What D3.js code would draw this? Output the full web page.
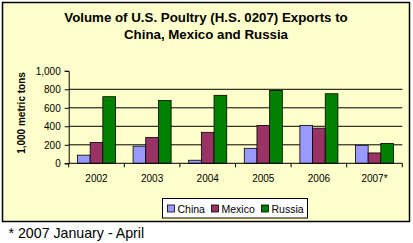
<!DOCTYPE html>
<html>
<head>
<meta charset="utf-8">
<script src="https://cdn.jsdelivr.net/npm/d3@7"></script>
<style>
  body { margin: 0; background: #fff; }
  text { font-family: "Liberation Sans", Arial, sans-serif; }
</style>
</head>
<body>
<svg id="chart"></svg>
<script>
var years = ["2002", "2003", "2004", "2005", "2006", "2007*"];
var seriesNames = ["China", "Mexico", "Russia"];
var china = [88, 185, 33, 162, 410, 195];
var mexico = [225, 280, 335, 410, 380, 112];
var russia = [720, 680, 735, 788, 752, 215];
var yTicks = [0, 200, 400, 600, 800, 1000];
var colors = ["#9999FF", "#993366", "#008000"];

var W = 413, H = 243;
var margin = { top: 70.8, right: 10.7, bottom: 79.7, left: 68.7 },
    width = W - margin.left - margin.right,
    height = H - margin.top - margin.bottom;

const svg = d3.select("#chart").attr("width", W).attr("height", H);

// chart frame
svg.append("rect")
    .attr("x", 2.5).attr("y", 2.5)
    .attr("width", 407).attr("height", 219)
    .attr("fill", "#FFFFCC")
    .attr("stroke", "#000").attr("stroke-width", 1.5);

svg.append("text")
    .attr("x", 206).attr("y", 21.7)
    .attr("text-anchor", "middle")
    .attr("font-size", 13.3).attr("font-weight", "bold")
    .text("Volume of U.S. Poultry (H.S. 0207) Exports to");
svg.append("text")
    .attr("x", 206).attr("y", 38.5)
    .attr("text-anchor", "middle")
    .attr("font-size", 13.3).attr("font-weight", "bold")
    .text("China, Mexico and Russia");

const g = svg.append("g").attr("transform", "translate(" + margin.left + "," + margin.top + ")");

const x0 = d3.scaleBand().domain(years).range([0, width]).paddingInner(0.316).paddingOuter(0.158);
const step = width / years.length;
const x1 = d3.scaleBand().domain(seriesNames).range([0, x0.bandwidth()]);
const y = d3.scaleLinear().domain([0, 1000]).range([height, 0]);

// gridlines
g.selectAll(".grid")
    .data(yTicks.filter(d => d > 0 && d < 1000))
    .enter().append("line")
    .attr("x1", 0).attr("x2", width)
    .attr("y1", d => y(d)).attr("y2", d => y(d))
    .attr("stroke", "#000").attr("stroke-width", 1);

const rows = years.map((yr, i) => ({ year: yr, vals: [china[i], mexico[i], russia[i]] }));

const grp = g.selectAll(".grp")
    .data(rows)
    .enter().append("g")
    .attr("transform", d => "translate(" + x0(d.year) + ",0)");

grp.selectAll("rect")
    .data(d => d.vals.map((v, j) => ({ name: seriesNames[j], v: v, c: colors[j] })))
    .enter().append("rect")
    .attr("x", d => x1(d.name))
    .attr("y", d => y(d.v))
    .attr("width", x1.bandwidth())
    .attr("height", d => height - y(d.v))
    .attr("fill", d => d.c)
    .attr("stroke", "#000").attr("stroke-width", 0.8);

// y axis
const yAxis = g.append("g")
    .call(d3.axisLeft(y).tickValues(yTicks).tickSize(4).tickPadding(4).tickFormat(d3.format(",")));
yAxis.select(".domain").attr("stroke", "#000");
yAxis.selectAll("text").attr("font-size", 10).attr("font-family", "Liberation Sans, Arial, sans-serif").attr("fill", "#000");

// x axis with ticks between categories
const xa = g.append("g").attr("transform", "translate(0," + height + ")");
xa.append("line").attr("x1", 0).attr("x2", width).attr("stroke", "#000");
xa.selectAll(".tk")
    .data(d3.range(years.length + 1))
    .enter().append("line")
    .attr("x1", i => i * step).attr("x2", i => i * step)
    .attr("y1", 0).attr("y2", 4)
    .attr("stroke", "#000");
xa.selectAll(".lbl")
    .data(years)
    .enter().append("text")
    .attr("x", d => x0(d) + x0.bandwidth() / 2)
    .attr("y", 19)
    .attr("text-anchor", "middle")
    .attr("font-size", 10)
    .text(d => d);

// y axis title
svg.append("text")
    .attr("transform", "translate(24.5,113) rotate(-90)")
    .attr("text-anchor", "middle")
    .attr("font-size", 10).attr("font-weight", "bold")
    .text("1,000 metric tons");

// legend
const lg = svg.append("g").attr("transform", "translate(162.5,198.5)");
lg.append("rect").attr("width", 145).attr("height", 19.5)
    .attr("fill", "#fff").attr("stroke", "#000").attr("stroke-width", 1);
const legX = [5, 49, 99];
seriesNames.forEach((s, j) => {
    lg.append("rect").attr("x", legX[j]).attr("y", 6.5).attr("width", 7).attr("height", 7)
        .attr("fill", colors[j]).attr("stroke", "#000").attr("stroke-width", 0.8);
    lg.append("text").attr("x", legX[j] + 10).attr("y", 14)
        .attr("font-size", 10.5).text(s);
});

svg.append("text")
    .attr("x", 8.5).attr("y", 238)
    .attr("font-size", 14.2)
    .text("* 2007 January - April");
</script>
</body>
</html>
